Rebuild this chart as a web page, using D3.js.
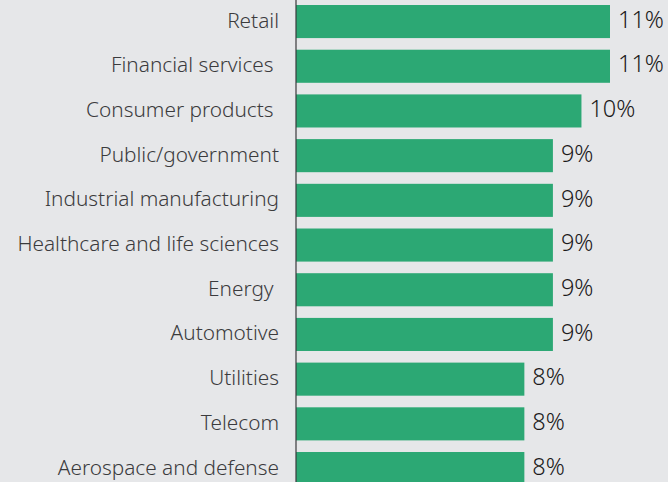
<!DOCTYPE html>
<html>
<head>
<meta charset="utf-8">
<script src="https://cdn.jsdelivr.net/npm/d3@7"></script>
<style>
  html, body { margin: 0; padding: 0; background: #e6e7e9; }
  svg { display: block; }
  text { white-space: pre; }
</style>
</head>
<body>
<svg id="chart" width="668" height="482"></svg>
<script>
// Share of respondents by industry
const categories = [
  "Retail",
  "Financial services ",
  "Consumer products ",
  "Public/government",
  "Industrial manufacturing",
  "Healthcare and life sciences",
  "Energy ",
  "Automotive",
  "Utilities",
  "Telecom",
  "Aerospace and defense"
];
const values = [11, 11, 10, 9, 9, 9, 9, 9, 8, 8, 8];
const valueLabels = ["11%", "11%", "10%", "9%", "9%", "9%", "9%", "9%", "8%", "8%", "8%"];

const width = 668, height = 482;
const axisX = 296;
const svg = d3.select("#chart");

svg.append("rect").attr("width", width).attr("height", height).attr("fill", "#e6e7e9");

const x = d3.scaleLinear().domain([0, 11]).range([axisX, 610]);
const step = 44.7;
const y = d3.scaleBand()
  .domain(categories)
  .range([-0.8, -0.8 + step * categories.length])
  .paddingInner(0.26)
  .paddingOuter(0.13);

const rows = categories.map((c, i) => ({ c, v: values[i], label: valueLabels[i] }));

svg.selectAll("rect.bar")
  .data(rows)
  .join("rect")
  .attr("class", "bar")
  .attr("x", x(0))
  .attr("y", d => y(d.c))
  .attr("width", d => x(d.v) - x(0))
  .attr("height", y.bandwidth())
  .attr("fill", "#2ca874");

// vertical baseline
svg.append("line")
  .attr("x1", axisX).attr("x2", axisX)
  .attr("y1", 0).attr("y2", height)
  .attr("stroke", "#3a3a3c").attr("stroke-width", 1.2);

const font = "'Noto Sans', 'Open Sans', sans-serif";

svg.selectAll("text.cat")
  .data(rows)
  .join("text")
  .attr("class", "cat")
  .attr("x", 279)
  .attr("y", d => y(d.c) + y.bandwidth() / 2 + 6)
  .attr("text-anchor", "end")
  .attr("font-family", font)
  .attr("font-weight", 300)
  .attr("font-size", 20.8)
  .attr("fill", "#3b3b3d")
  .text(d => d.c);

svg.selectAll("text.val")
  .data(rows)
  .join("text")
  .attr("class", "val")
  .attr("x", d => x(d.v) + 8)
  .attr("y", d => y(d.c) + y.bandwidth() / 2 + 6.2)
  .attr("font-family", font)
  .attr("font-weight", 300)
  .attr("font-size", 23.5)
  .attr("fill", "#1c1a1b")
  .text(d => d.label);
</script>
</body>
</html>
